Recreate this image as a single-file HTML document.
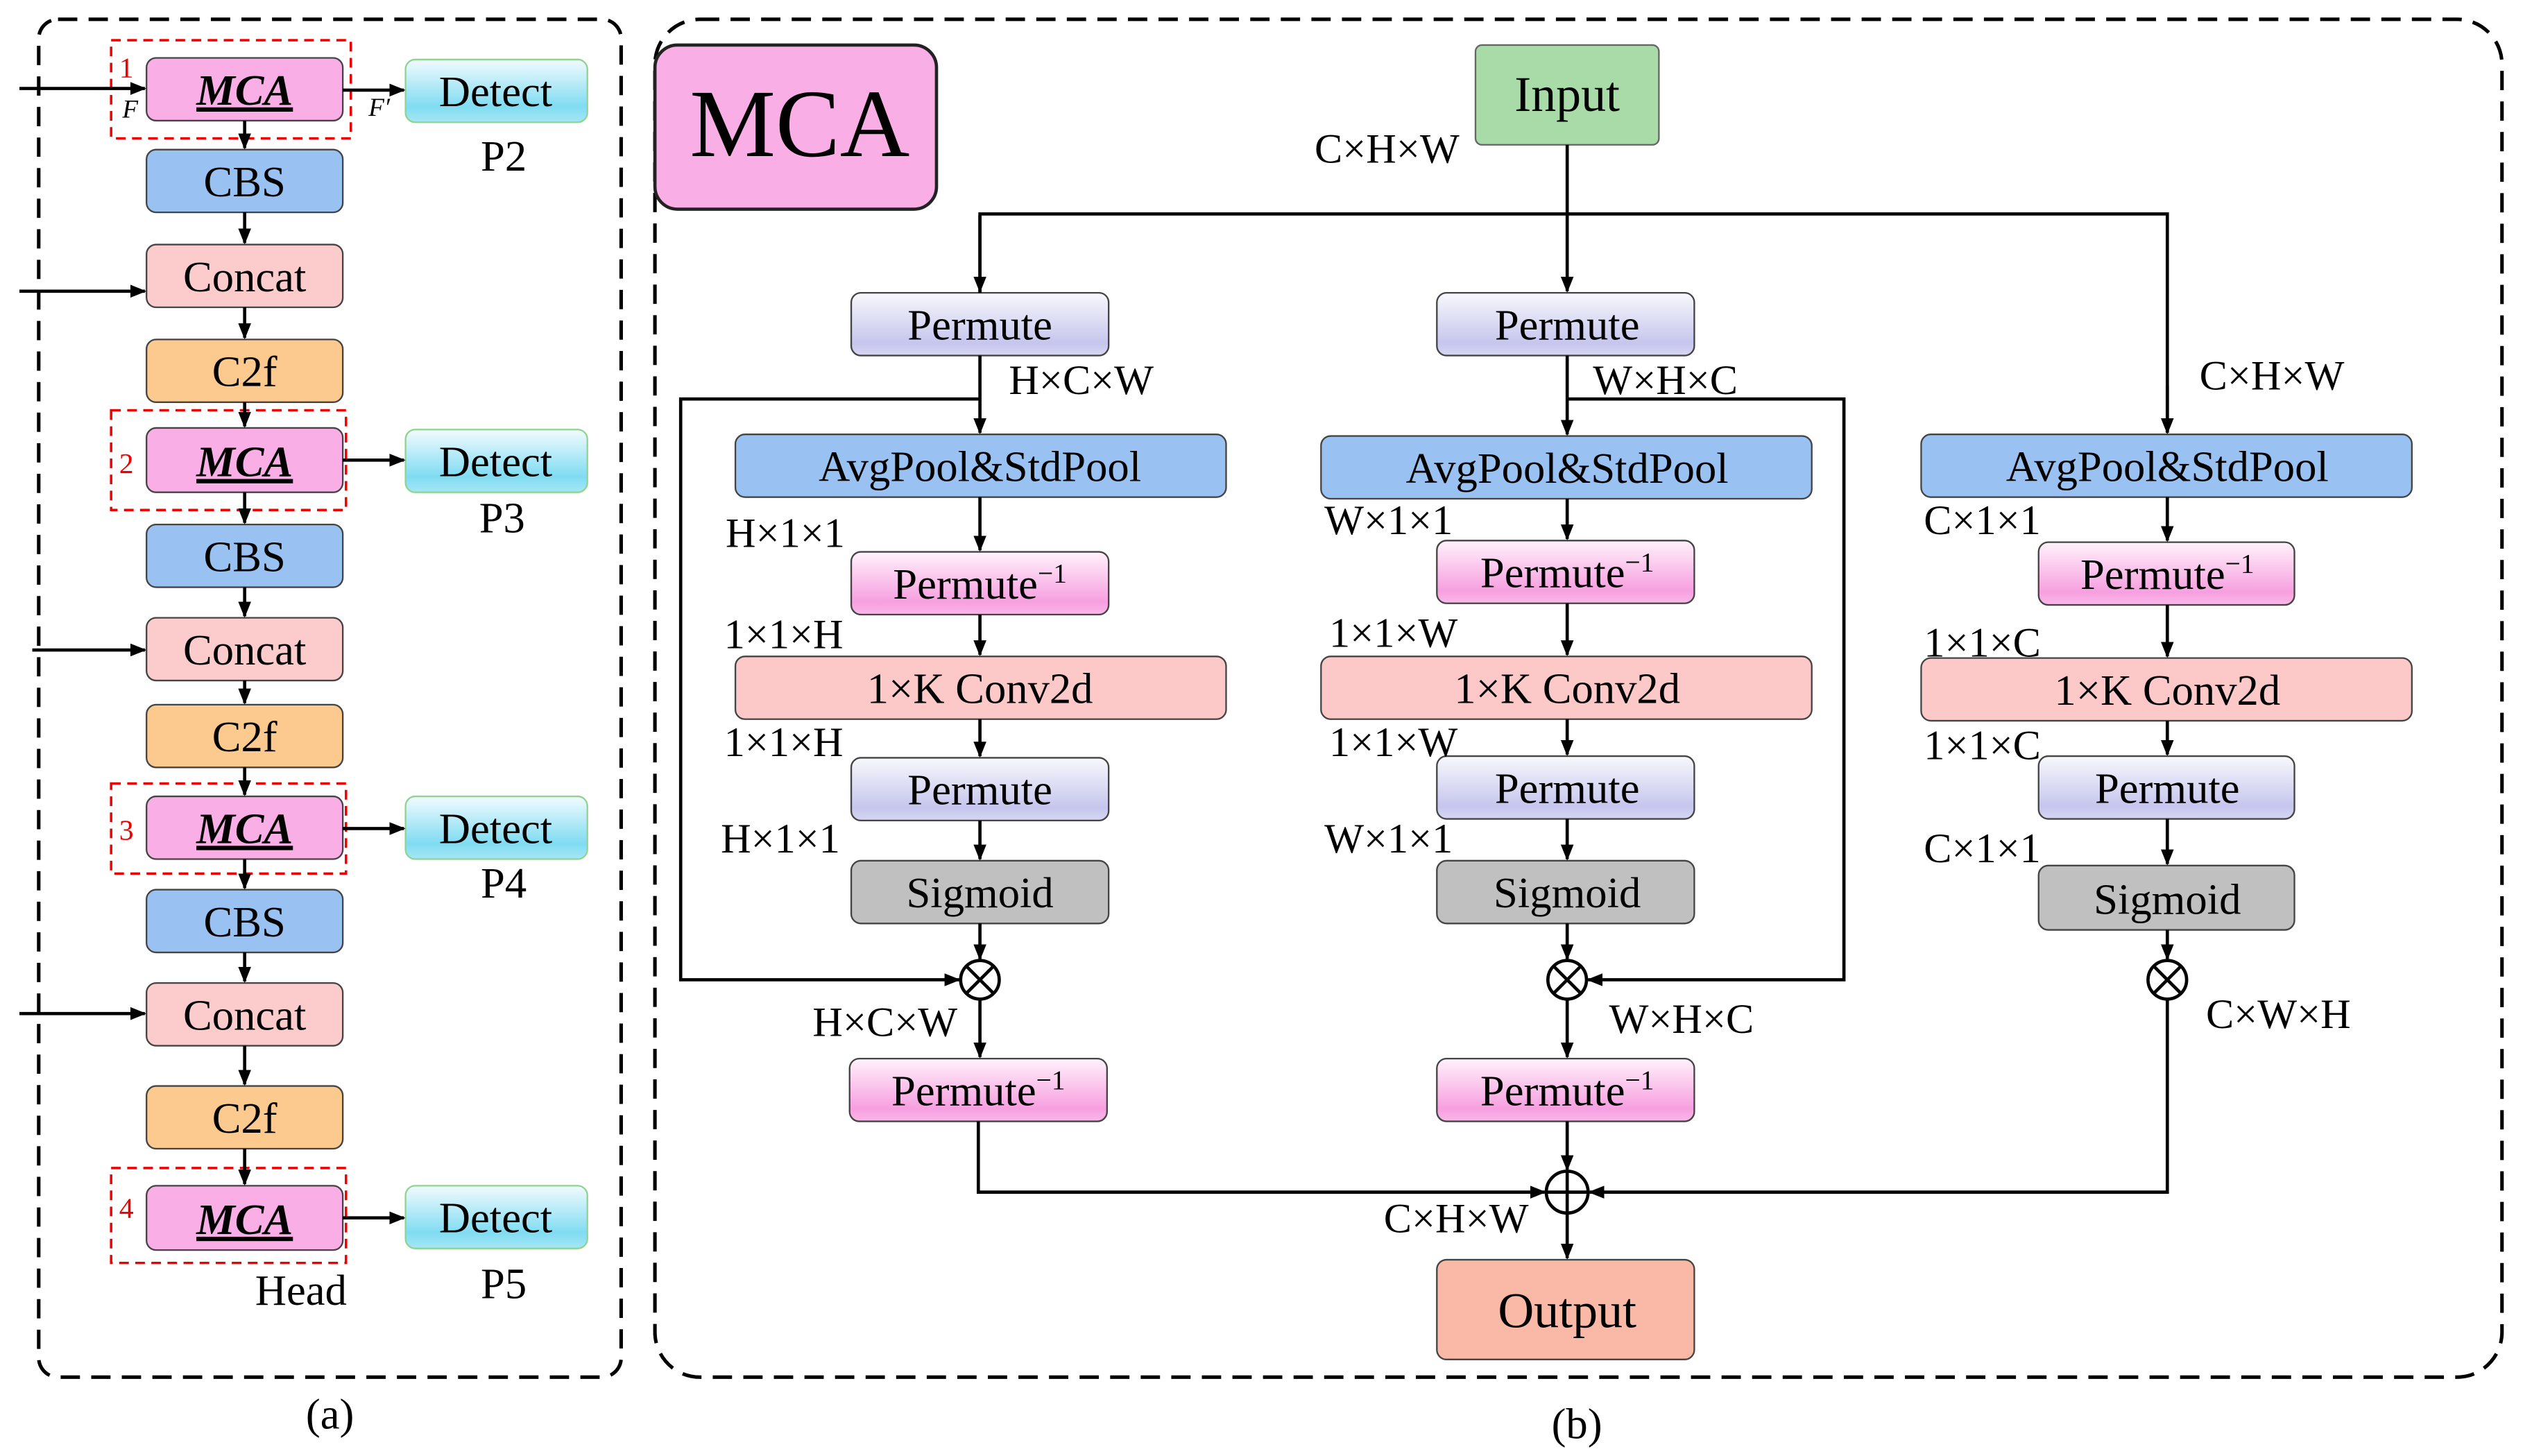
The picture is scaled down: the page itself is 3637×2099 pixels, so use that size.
<!DOCTYPE html>
<html><head><meta charset="utf-8"><style>
html,body{margin:0;padding:0;background:#fff;}
svg{display:block;}
text{font-family:"Liberation Serif",serif;fill:#000;}
</style></head><body>
<svg width="3637" height="2099" viewBox="0 0 1568 905" xmlns="http://www.w3.org/2000/svg">
<defs>
<marker id="a" markerWidth="10" markerHeight="10" refX="9" refY="5" orient="auto" markerUnits="userSpaceOnUse"><path d="M0,1 L10,5 L0,9 Z" fill="#000"/></marker>
<linearGradient id="gd" x1="0" y1="0" x2="0" y2="1"><stop offset="0" stop-color="#f2fbfe"/><stop offset="0.75" stop-color="#80dcf2"/><stop offset="1" stop-color="#a6e6f5"/></linearGradient>
<linearGradient id="gp" x1="0" y1="0" x2="0" y2="1"><stop offset="0" stop-color="#f8f8fc"/><stop offset="0.8" stop-color="#c6c6ee"/><stop offset="1" stop-color="#d6d6f2"/></linearGradient>
<linearGradient id="gi" x1="0" y1="0" x2="0" y2="1"><stop offset="0" stop-color="#fff2fb"/><stop offset="0.8" stop-color="#f79fe0"/><stop offset="1" stop-color="#f9b8e8"/></linearGradient>
</defs>
<g fill="none" stroke="#000" stroke-width="2.2" stroke-dasharray="12,7">
<rect x="24" y="12" width="362" height="844" rx="12"/>
<rect x="407" y="12" width="1148" height="844" rx="28"/>
</g>
<g fill="none" stroke="#e00" stroke-width="1.5" stroke-dasharray="6,4">
<rect x="69" y="25" width="149" height="61"/>
<rect x="69" y="255" width="146" height="62"/>
<rect x="69" y="487" width="146" height="56"/>
<rect x="69" y="726" width="146" height="59"/>
</g>
<g fill="#e00" font-size="18">
<text x="74" y="48" style="fill:#e00">1</text><text x="74" y="294" style="fill:#e00">2</text><text x="74" y="522" style="fill:#e00">3</text><text x="74" y="757" style="fill:#e00">4</text>
</g>
<!-- left boxes -->
<g stroke="#444" stroke-width="1">
<rect x="91" y="36" width="122" height="39" rx="6" fill="#f9aee6"/>
<rect x="91" y="93" width="122" height="39" rx="6" fill="#99c2f3"/>
<rect x="91" y="152" width="122" height="39" rx="6" fill="#fccccc"/>
<rect x="91" y="211" width="122" height="39" rx="6" fill="#fcc98f"/>
<rect x="91" y="266" width="122" height="40" rx="6" fill="#f9aee6"/>
<rect x="91" y="326" width="122" height="39" rx="6" fill="#99c2f3"/>
<rect x="91" y="384" width="122" height="39" rx="6" fill="#fccccc"/>
<rect x="91" y="438" width="122" height="39" rx="6" fill="#fcc98f"/>
<rect x="91" y="495" width="122" height="39" rx="6" fill="#f9aee6"/>
<rect x="91" y="553" width="122" height="39" rx="6" fill="#99c2f3"/>
<rect x="91" y="611" width="122" height="39" rx="6" fill="#fccccc"/>
<rect x="91" y="675" width="122" height="39" rx="6" fill="#fcc98f"/>
<rect x="91" y="737" width="122" height="40" rx="6" fill="#f9aee6"/>
</g>
<g stroke="#8fd48f" stroke-width="1" fill="url(#gd)">
<rect x="252" y="37" width="113" height="39" rx="6"/>
<rect x="252" y="267" width="113" height="39" rx="6"/>
<rect x="252" y="495" width="113" height="39" rx="6"/>
<rect x="252" y="737" width="113" height="39" rx="6"/>
</g>
<g font-size="27" text-anchor="middle">
<text x="152" y="65" font-style="italic" font-weight="bold" text-decoration="underline">MCA</text>
<text x="152" y="122">CBS</text>
<text x="152" y="181">Concat</text>
<text x="152" y="240">C2f</text>
<text x="152" y="296" font-style="italic" font-weight="bold" text-decoration="underline">MCA</text>
<text x="152" y="355">CBS</text>
<text x="152" y="413">Concat</text>
<text x="152" y="467">C2f</text>
<text x="152" y="524" font-style="italic" font-weight="bold" text-decoration="underline">MCA</text>
<text x="152" y="582">CBS</text>
<text x="152" y="640">Concat</text>
<text x="152" y="704">C2f</text>
<text x="152" y="767" font-style="italic" font-weight="bold" text-decoration="underline">MCA</text>
<text x="308" y="66">Detect</text>
<text x="308" y="296">Detect</text>
<text x="308" y="524">Detect</text>
<text x="308" y="766">Detect</text>
<text x="313" y="106">P2</text>
<text x="312" y="331">P3</text>
<text x="313" y="558">P4</text>
<text x="313" y="807">P5</text>
<text x="187" y="811">Head</text>
<text x="205" y="888">(a)</text>
<text x="980" y="894">(b)</text>
</g>
<g font-size="16" font-style="italic"><text x="76" y="73">F</text><text x="229" y="72">F′</text></g>
<g stroke="#000" stroke-width="2" fill="none" marker-end="url(#a)">
<line x1="12" y1="55" x2="90" y2="55"/>
<line x1="213" y1="56" x2="251" y2="56"/>
<line x1="152" y1="75" x2="152" y2="92"/>
<line x1="152" y1="132" x2="152" y2="151"/>
<line x1="12" y1="181" x2="90" y2="181"/>
<line x1="152" y1="191" x2="152" y2="210"/>
<line x1="152" y1="250" x2="152" y2="265"/>
<line x1="213" y1="286" x2="251" y2="286"/>
<line x1="152" y1="306" x2="152" y2="325"/>
<line x1="152" y1="365" x2="152" y2="383"/>
<line x1="20" y1="404" x2="90" y2="404"/>
<line x1="152" y1="423" x2="152" y2="437"/>
<line x1="152" y1="477" x2="152" y2="494"/>
<line x1="213" y1="515" x2="251" y2="515"/>
<line x1="152" y1="534" x2="152" y2="552"/>
<line x1="152" y1="592" x2="152" y2="610"/>
<line x1="12" y1="630" x2="90" y2="630"/>
<line x1="152" y1="650" x2="152" y2="674"/>
<line x1="152" y1="714" x2="152" y2="736"/>
<line x1="213" y1="757" x2="251" y2="757"/>
</g>
<!-- right panel -->
<rect x="407" y="28" width="175" height="102" rx="14" fill="#f9aee6" stroke="#222" stroke-width="2"/>
<text x="497" y="97" font-size="60" text-anchor="middle">MCA</text>
<rect x="917" y="28" width="114" height="62" rx="4" fill="#a8dba8" stroke="#666"/>
<g stroke="#444" stroke-width="1">
<rect x="529" y="182" width="160" height="39" rx="6" fill="url(#gp)"/>
<rect x="893" y="182" width="160" height="39" rx="6" fill="url(#gp)"/>
<rect x="457" y="270" width="305" height="39" rx="6" fill="#99c2f3"/>
<rect x="821" y="271" width="305" height="39" rx="6" fill="#99c2f3"/>
<rect x="1194" y="270" width="305" height="39" rx="6" fill="#99c2f3"/>
<rect x="529" y="343" width="160" height="39" rx="6" fill="url(#gi)"/>
<rect x="893" y="336" width="160" height="39" rx="6" fill="url(#gi)"/>
<rect x="1267" y="337" width="159" height="39" rx="6" fill="url(#gi)"/>
<rect x="457" y="408" width="305" height="39" rx="6" fill="#fcc8c8"/>
<rect x="821" y="408" width="305" height="39" rx="6" fill="#fcc8c8"/>
<rect x="1194" y="409" width="305" height="39" rx="6" fill="#fcc8c8"/>
<rect x="529" y="471" width="160" height="39" rx="6" fill="url(#gp)"/>
<rect x="893" y="470" width="160" height="39" rx="6" fill="url(#gp)"/>
<rect x="1267" y="470" width="159" height="39" rx="6" fill="url(#gp)"/>
<rect x="529" y="535" width="160" height="39" rx="6" fill="#c0c0c0"/>
<rect x="893" y="535" width="160" height="39" rx="6" fill="#c0c0c0"/>
<rect x="1267" y="538" width="159" height="40" rx="6" fill="#c0c0c0"/>
<rect x="528" y="658" width="160" height="39" rx="6" fill="url(#gi)"/>
<rect x="893" y="658" width="160" height="39" rx="6" fill="url(#gi)"/>
<rect x="893" y="783" width="160" height="62" rx="6" fill="#f9b9a6"/>
</g>
<g stroke="#000" stroke-width="2" fill="none">
<polyline points="609,182 609,133 1347,133 1347,269" />
<line x1="974" y1="90" x2="974" y2="133"/>
<polyline points="609,248 423,248 423,609 596,609" marker-end="url(#a)"/>
<polyline points="974,248 1146,248 1146,609 987,609" marker-end="url(#a)"/>
<polyline points="608,697 608,741 960,741" marker-end="url(#a)"/>
<polyline points="1347,621 1347,741 988,741" marker-end="url(#a)"/>
<circle cx="609" cy="609" r="12"/><path d="M600.5,600.5 L617.5,617.5 M617.5,600.5 L600.5,617.5"/>
<circle cx="974" cy="609" r="12"/><path d="M965.5,600.5 L982.5,617.5 M982.5,600.5 L965.5,617.5"/>
<circle cx="1347" cy="609" r="12"/><path d="M1338.5,600.5 L1355.5,617.5 M1355.5,600.5 L1338.5,617.5"/>
<circle cx="974" cy="741" r="13"/><path d="M961,741 H987 M974,728 V754"/>
</g>
<g stroke="#000" stroke-width="2" fill="none" marker-end="url(#a)">
<line x1="609" y1="134" x2="609" y2="181"/>
<line x1="974" y1="133" x2="974" y2="181"/>
<line x1="1347" y1="240" x2="1347" y2="269"/>
<line x1="609" y1="221" x2="609" y2="269"/>
<line x1="974" y1="221" x2="974" y2="270"/>
<line x1="609" y1="309" x2="609" y2="342"/>
<line x1="974" y1="310" x2="974" y2="335"/>
<line x1="1347" y1="309" x2="1347" y2="336"/>
<line x1="609" y1="382" x2="609" y2="407"/>
<line x1="974" y1="375" x2="974" y2="407"/>
<line x1="1347" y1="376" x2="1347" y2="408"/>
<line x1="609" y1="447" x2="609" y2="470"/>
<line x1="974" y1="447" x2="974" y2="469"/>
<line x1="1347" y1="448" x2="1347" y2="469"/>
<line x1="609" y1="510" x2="609" y2="534"/>
<line x1="974" y1="509" x2="974" y2="534"/>
<line x1="1347" y1="509" x2="1347" y2="537"/>
<line x1="609" y1="574" x2="609" y2="596"/>
<line x1="974" y1="574" x2="974" y2="596"/>
<line x1="1347" y1="578" x2="1347" y2="596"/>
<line x1="609" y1="621" x2="609" y2="657"/>
<line x1="974" y1="621" x2="974" y2="657"/>
<line x1="974" y1="697" x2="974" y2="727"/>
<line x1="974" y1="754" x2="974" y2="782"/>
</g>
<g font-size="27" text-anchor="middle">
<text x="974" y="69" font-size="31">Input</text>
<text x="974" y="825" font-size="31">Output</text>
<text x="609" y="211">Permute</text>
<text x="974" y="211">Permute</text>
<text x="609" y="299">AvgPool&amp;StdPool</text>
<text x="974" y="300">AvgPool&amp;StdPool</text>
<text x="1347" y="299">AvgPool&amp;StdPool</text>
<text x="609" y="372">Permute<tspan font-size="17" dy="-10">−1</tspan></text>
<text x="974" y="365">Permute<tspan font-size="17" dy="-10">−1</tspan></text>
<text x="1347" y="366">Permute<tspan font-size="17" dy="-10">−1</tspan></text>
<text x="609" y="437">1×K  Conv2d</text>
<text x="974" y="437">1×K  Conv2d</text>
<text x="1347" y="438">1×K  Conv2d</text>
<text x="609" y="500">Permute</text>
<text x="974" y="499">Permute</text>
<text x="1347" y="499">Permute</text>
<text x="609" y="564">Sigmoid</text>
<text x="974" y="564">Sigmoid</text>
<text x="1347" y="568">Sigmoid</text>
<text x="608" y="687">Permute<tspan font-size="17" dy="-10">−1</tspan></text>
<text x="974" y="687">Permute<tspan font-size="17" dy="-10">−1</tspan></text>
</g>
<g font-size="26" text-anchor="middle">
<text x="862" y="101">C×H×W</text>
<text x="672" y="245">H×C×W</text>
<text x="1035" y="245">W×H×C</text>
<text x="1412" y="242">C×H×W</text>
<text x="488" y="340">H×1×1</text>
<text x="863" y="332">W×1×1</text>
<text x="1232" y="332">C×1×1</text>
<text x="487" y="403">1×1×H</text>
<text x="866" y="402">1×1×W</text>
<text x="1232" y="408">1×1×C</text>
<text x="487" y="470">1×1×H</text>
<text x="866" y="470">1×1×W</text>
<text x="1232" y="472">1×1×C</text>
<text x="485" y="530">H×1×1</text>
<text x="863" y="530">W×1×1</text>
<text x="1232" y="536">C×1×1</text>
<text x="550" y="644">H×C×W</text>
<text x="1045" y="642">W×H×C</text>
<text x="1416" y="639">C×W×H</text>
<text x="905" y="766">C×H×W</text>
</g>
</svg>
</body></html>
